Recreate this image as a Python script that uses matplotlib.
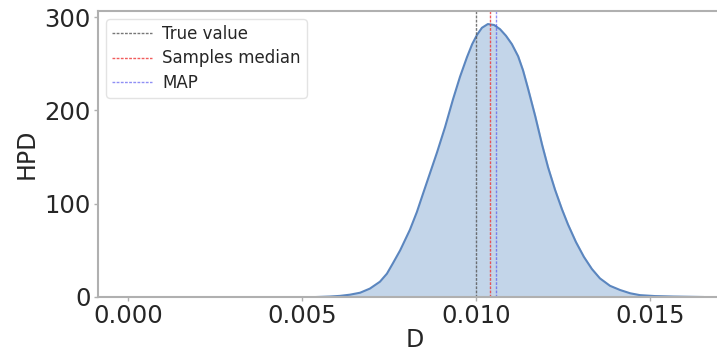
import matplotlib
matplotlib.use("Agg")
import matplotlib.pyplot as plt

# Posterior density of D (HPD curve)
d_values = [0.00543, 0.00580, 0.00609, 0.00638, 0.00667, 0.00695, 0.00724,
            0.00744, 0.00761, 0.00782, 0.00810, 0.00830, 0.00848, 0.00868,
            0.00888, 0.00911, 0.00934, 0.00954, 0.00974, 0.00989, 0.01003,
            0.01017, 0.01034, 0.01052, 0.01069, 0.01086, 0.01103, 0.01121,
            0.01135, 0.01149, 0.01170, 0.01190, 0.01207, 0.01227, 0.01247,
            0.01264, 0.01287, 0.01310, 0.01333, 0.01356, 0.01385, 0.01414,
            0.01443, 0.01471, 0.01514, 0.01566, 0.01652]
hpd_values = [0.0, 0.5, 1.2, 2.5, 4.6, 9.0, 16.4,
              25.0, 36.0, 50.0, 72.0, 91.0, 111.0, 133.0,
              155.0, 182.0, 212.0, 236.0, 257.0, 271.0, 281.0,
              288.5, 292.5, 291.5, 287.0, 280.0, 271.0, 258.0,
              243.0, 224.0, 194.0, 163.0, 139.0, 115.0, 94.0,
              78.0, 59.0, 43.0, 30.0, 20.0, 12.0, 7.5,
              4.0, 2.0, 1.0, 0.5, 0.0]

true_value = 0.0100
samples_median = 0.01041
map_value = 0.01058

x_ticks = [0.000, 0.005, 0.010, 0.015]
y_ticks = [0, 100, 200, 300]

fig = plt.figure(figsize=(7.17, 3.52), dpi=100)
ax = fig.add_axes([98 / 717, 55 / 352, (732 - 98) / 717, (297 - 11) / 352])

ax.fill_between(d_values, hpd_values, color="#c3d5e9", zorder=1)
ax.plot(d_values, hpd_values, color="#5b86bf", lw=1.5, zorder=2,
        solid_joinstyle="round")

ax.axvline(true_value, color="#555555", ls="--", lw=1.0, dashes=(2, 1),
           alpha=0.8, label="True value")
ax.axvline(samples_median, color="#ee3333", ls="--", lw=1.0, dashes=(2, 1),
           alpha=0.8, label="Samples median")
ax.axvline(map_value, color="#4444ee", ls="--", lw=1.0, dashes=(2, 1),
           alpha=0.6, label="MAP")

ax.set_xlim(-0.000862, 0.017356)
ax.set_ylim(0, 306.5)
ax.set_xticks(x_ticks)
ax.set_xticklabels([f"{t:.3f}" for t in x_ticks])
ax.set_yticks(y_ticks)

for s in ax.spines.values():
    s.set_color("#b0b0b0")
    s.set_linewidth(1.5)

ax.tick_params(axis="both", colors="#b0b0b0", labelcolor="#262626",
               labelsize=17.5, length=3, width=1, pad=2)
ax.set_xlabel("D", fontsize=17, color="#262626", labelpad=0)
ax.set_ylabel("HPD", fontsize=17, color="#262626", labelpad=4)

leg = ax.legend(loc="upper left", fontsize=12, frameon=True,
                handlelength=2.4, borderpad=0.35, labelspacing=0.38,
                handletextpad=0.6, bbox_to_anchor=(0.0, 1.0))
leg.get_frame().set_edgecolor("#dddddd")
for t in leg.get_texts():
    t.set_color("#262626")

fig.savefig("out.png", dpi=100)
